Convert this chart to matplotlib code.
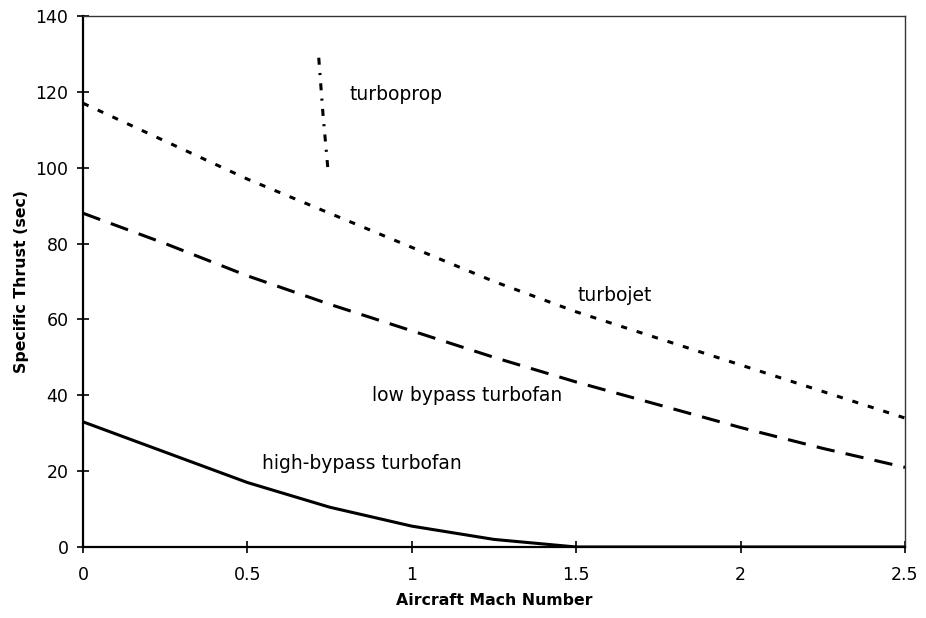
# Specific thrust vs flight Mach number for several engine types
import numpy as np
import matplotlib.pyplot as plt

# values
mach = [0, 0.25, 0.5, 0.75, 1.0, 1.25, 1.5, 1.75, 2.0, 2.25, 2.5]
turbojet = [117, 107, 97, 88, 79, 70, 62, 55, 48, 41, 34]
low_bypass = [88, 80, 71.5, 64, 57, 50, 43.5, 37.5, 31.5, 26, 21]
high_bypass = [33, 25, 17, 10.5, 5.5, 2, 0, 0, 0, 0, 0]

prop_mach = [0.717, 0.73, 0.745]
turboprop = [129, 114, 99.5]

fontname = 'DejaVu Sans'
plt.rcParams['font.family'] = fontname

fig = plt.figure(figsize=(9.26, 6.18), dpi=100)
ax = fig.add_axes([83/926, 71/618, 822/926, 531/618])

lw = 2.2
ax.plot(mach, turbojet, color='black', lw=lw, linestyle=(0, (2, 3.3)))
ax.plot(mach, low_bypass, color='black', lw=lw, linestyle=(0, (6, 3.7)))
ax.plot(mach, high_bypass, color='black', lw=lw, solid_capstyle='butt')
ax.plot(prop_mach, turboprop, color='black', lw=lw,
        linestyle=(0, (2.3, 2.7, 0.7, 2.7)))

# curve labels
fs = 13.5
ax.text(0.81, 119.4, 'turboprop', fontsize=fs, va='center')
ax.text(1.505, 66.4, 'turbojet', fontsize=fs, va='center')
ax.text(0.88, 40, 'low bypass turbofan', fontsize=fs, va='center')
ax.text(0.545, 21.9, 'high-bypass turbofan', fontsize=fs, va='center')

ax.set_xlim(0, 2.5)
ax.set_ylim(0, 140)
ax.set_xticks([0, 0.5, 1, 1.5, 2, 2.5])
ax.set_xticklabels(['0', '0.5', '1', '1.5', '2', '2.5'])
ax.set_yticks(range(0, 141, 20))

ax.tick_params(axis='both', direction='inout', length=9, width=1.2,
               labelsize=12.5)
ax.tick_params(axis='x', pad=9)
ax.tick_params(axis='y', pad=6)

for side in ['left', 'bottom']:
    ax.spines[side].set_linewidth(1.6)
for side in ['top', 'right']:
    ax.spines[side].set_linewidth(1.0)
    ax.spines[side].set_color('#333333')

ax.set_xlabel('Aircraft Mach Number', fontsize=11.3, fontweight='bold')
ax.set_ylabel('Specific Thrust (sec)', fontsize=11.3, fontweight='bold')
ax.xaxis.set_label_coords(0.5, -0.0866)
ax.yaxis.set_label_coords(-0.066, 0.5)

fig.savefig('out.png', dpi=100)
